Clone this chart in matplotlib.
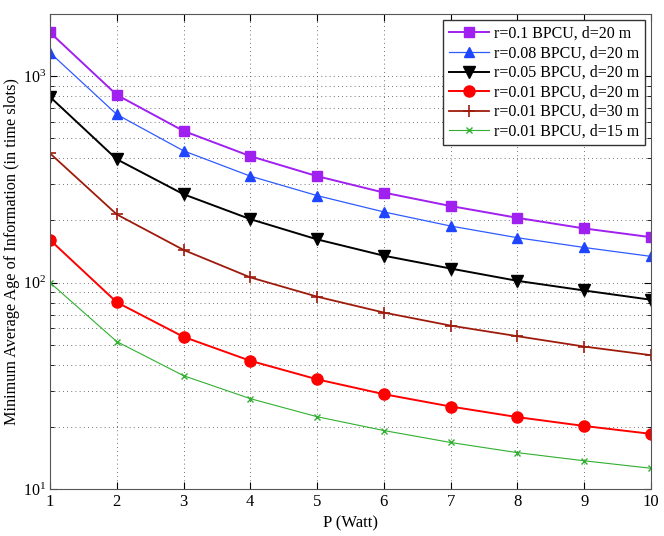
import matplotlib
matplotlib.use("Agg")
import matplotlib.pyplot as plt
from matplotlib import ticker

plt.rcParams.update({
    "font.family": ["Liberation Serif", "DejaVu Serif"],
    "font.size": 11,
    "mathtext.fontset": "custom",
    "mathtext.rm": "Liberation Serif",
    "mathtext.it": "Liberation Serif:italic",
    "xtick.direction": "in",
    "ytick.direction": "in",
})

# transmit power (Watt)
P = [1, 2, 3, 4, 5, 6, 7, 8, 9, 10]

# minimum average AoI (time slots)
aoi_r01_d20 = [1630, 812, 543, 410, 328, 273, 235, 206, 183, 166]
aoi_r008_d20 = [1300, 653, 435, 328, 264, 220, 188, 165, 148, 134]
aoi_r005_d20 = [794, 396, 268, 203, 162, 135, 117, 102, 91.6, 82.6]
aoi_r001_d20 = [161, 80.3, 54.6, 41.8, 34.0, 28.8, 25.1, 22.3, 20.2, 18.5]
aoi_r001_d30 = [423, 214, 144, 106, 85.5, 71.6, 61.9, 55.0, 49.0, 44.5]
aoi_r001_d15 = [100, 51.8, 35.4, 27.4, 22.4, 19.2, 16.8, 15.0, 13.7, 12.6]

labels = ["r=0.1 BPCU, d=20 m", "r=0.08 BPCU, d=20 m", "r=0.05 BPCU, d=20 m",
          "r=0.01 BPCU, d=20 m", "r=0.01 BPCU, d=30 m", "r=0.01 BPCU, d=15 m"]

series = [aoi_r01_d20, aoi_r008_d20, aoi_r005_d20, aoi_r001_d20, aoi_r001_d30, aoi_r001_d15]
styles = [
    dict(color="#A020F0", marker="s", ms=6.5, lw=1.4),
    dict(color="#2F5BFF", marker="^", ms=7.5, lw=0.9, mfc="#1F45FF", mec="#1F45FF"),
    dict(color="black", marker="v", ms=8, lw=1.4),
    dict(color="#FF0000", marker="o", ms=8, lw=1.4),
    dict(color="#9E1B0C", marker="+", ms=8, lw=1.3, mew=1.2),
    dict(color="#30B030", marker="x", ms=5, lw=0.8),
]

fig = plt.figure(figsize=(6.64, 5.36), dpi=100)
ax = fig.add_axes([0.0753, 0.0877, 0.905, 0.886])

for y, lbl, st in zip(series, labels, styles):
    ax.plot(P, y, label=lbl, **st)

ax.set_yscale("log")
ax.set_xlim(1, 10)
ax.set_ylim(10, 2000)
ax.set_xticks(P)
ax.yaxis.set_major_formatter(ticker.LogFormatterSciNotation())
ax.yaxis.set_minor_formatter(ticker.NullFormatter())
ax.tick_params(which="both", top=True, right=True, labelsize=12)
ax.tick_params(axis="y", labelsize=11.5, pad=3)
ax.tick_params(which="major", length=5)
ax.tick_params(which="minor", length=3)

ax.grid(True, which="major", axis="both", linestyle=(0, (1, 4)), color="#444444", lw=0.6)
ax.grid(True, which="minor", axis="y", linestyle=(0, (1, 4)), color="#444444", lw=0.6)

for s in ax.spines.values():
    s.set_color("#555555")

ax.set_xlabel("P (Watt)", fontsize=12)
ax.set_ylabel("Minimum Average Age of Information (in time slots)", fontsize=11.7)
ax.yaxis.set_label_coords(-0.05, 0.5)

leg = ax.legend(loc="upper right", fontsize=11.5, fancybox=False, framealpha=1,
                edgecolor="#333333", handlelength=2.5, borderaxespad=0.4,
                labelspacing=0.22, borderpad=0.35, handletextpad=0.3)
leg.get_frame().set_linewidth(1.0)

fig.savefig("out.png", dpi=100)
